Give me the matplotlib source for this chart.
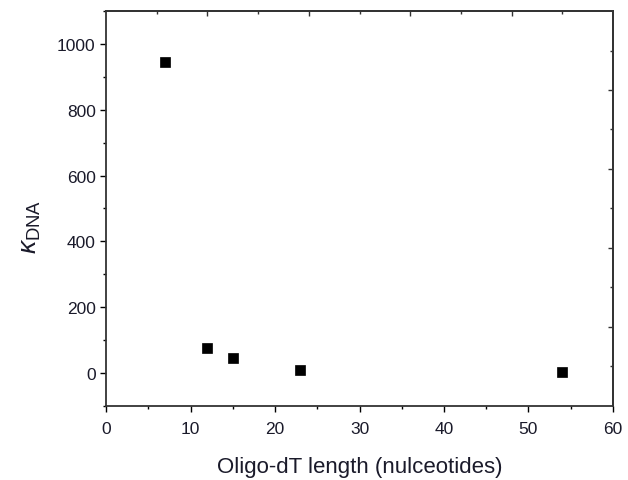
import matplotlib
matplotlib.use("Agg")
import matplotlib.pyplot as plt
from matplotlib.ticker import FixedLocator, MultipleLocator, NullFormatter

plt.rcParams['font.family'] = ['Liberation Sans', 'DejaVu Sans']
plt.rcParams['mathtext.fontset'] = 'custom'
plt.rcParams['mathtext.rm'] = 'Liberation Sans'
plt.rcParams['mathtext.it'] = 'Liberation Sans:italic'

# Oligo-dT length (nucleotides) and the fitted K_DNA value
oligo_length = [7, 12, 15, 23, 54]
k_dna = [945, 75, 46, 8, 4]

x_limits = (0, 60)
y_limits = (-100, 1100)

fig = plt.figure(figsize=(6.28, 4.81), dpi=100)
ax = fig.add_axes([0.169, 0.154, 0.807, 0.821])

ax.plot(oligo_length, k_dna, linestyle='none', marker='s', markersize=7.5,
        color='black', markeredgewidth=0.5)

ax.set_xlim(*x_limits)
ax.set_ylim(*y_limits)
ax.xaxis.set_major_locator(MultipleLocator(10))
ax.xaxis.set_minor_locator(MultipleLocator(5))
ax.yaxis.set_major_locator(MultipleLocator(200))
ax.yaxis.set_minor_locator(MultipleLocator(100))

ax.tick_params(which='major', direction='out', length=4.5, width=1.0,
               labelsize=12.5, labelcolor='#1a1a2a', pad=3)
ax.tick_params(axis='x', which='major', pad=6)
ax.tick_params(which='minor', direction='out', length=2.5, width=1.0)
ax.tick_params(top=False, right=False, which='both')

for spine in ax.spines.values():
    spine.set_linewidth(1.3)
    spine.set_color('#333333')

ax.set_xlabel('Oligo-dT length (nulceotides)', fontsize=16, color='#1a1a2a',
              labelpad=15)
ax.set_ylabel(r'$\mathit{\kappa}_{\mathrm{DNA}}$', fontsize=19, color='#1a1a2a')
ax.yaxis.set_label_coords(-0.124, 0.455)

# Top and right axes carry their own evenly spaced inward ticks
top = ax.secondary_xaxis('top', functions=(lambda x: (x - x_limits[0]) / (x_limits[1] - x_limits[0]),
                                           lambda f: x_limits[0] + f * (x_limits[1] - x_limits[0])))
right = ax.secondary_yaxis('right', functions=(lambda y: (y - y_limits[0]) / (y_limits[1] - y_limits[0]),
                                               lambda f: y_limits[0] + f * (y_limits[1] - y_limits[0])))
for sec, axis in ((top, top.xaxis), (right, right.yaxis)):
    axis.set_major_locator(FixedLocator([0.2, 0.4, 0.6, 0.8]))
    axis.set_minor_locator(FixedLocator([0.1, 0.3, 0.5, 0.7, 0.9]))
    axis.set_major_formatter(NullFormatter())
    sec.tick_params(which='major', direction='in', length=3.5, width=1.0, color='#333333')
    sec.tick_params(which='minor', direction='in', length=2, width=1.0, color='#333333')
    for spine in sec.spines.values():
        spine.set_linewidth(1.3)
        spine.set_color('#333333')

fig.savefig('out.png', dpi=100)
